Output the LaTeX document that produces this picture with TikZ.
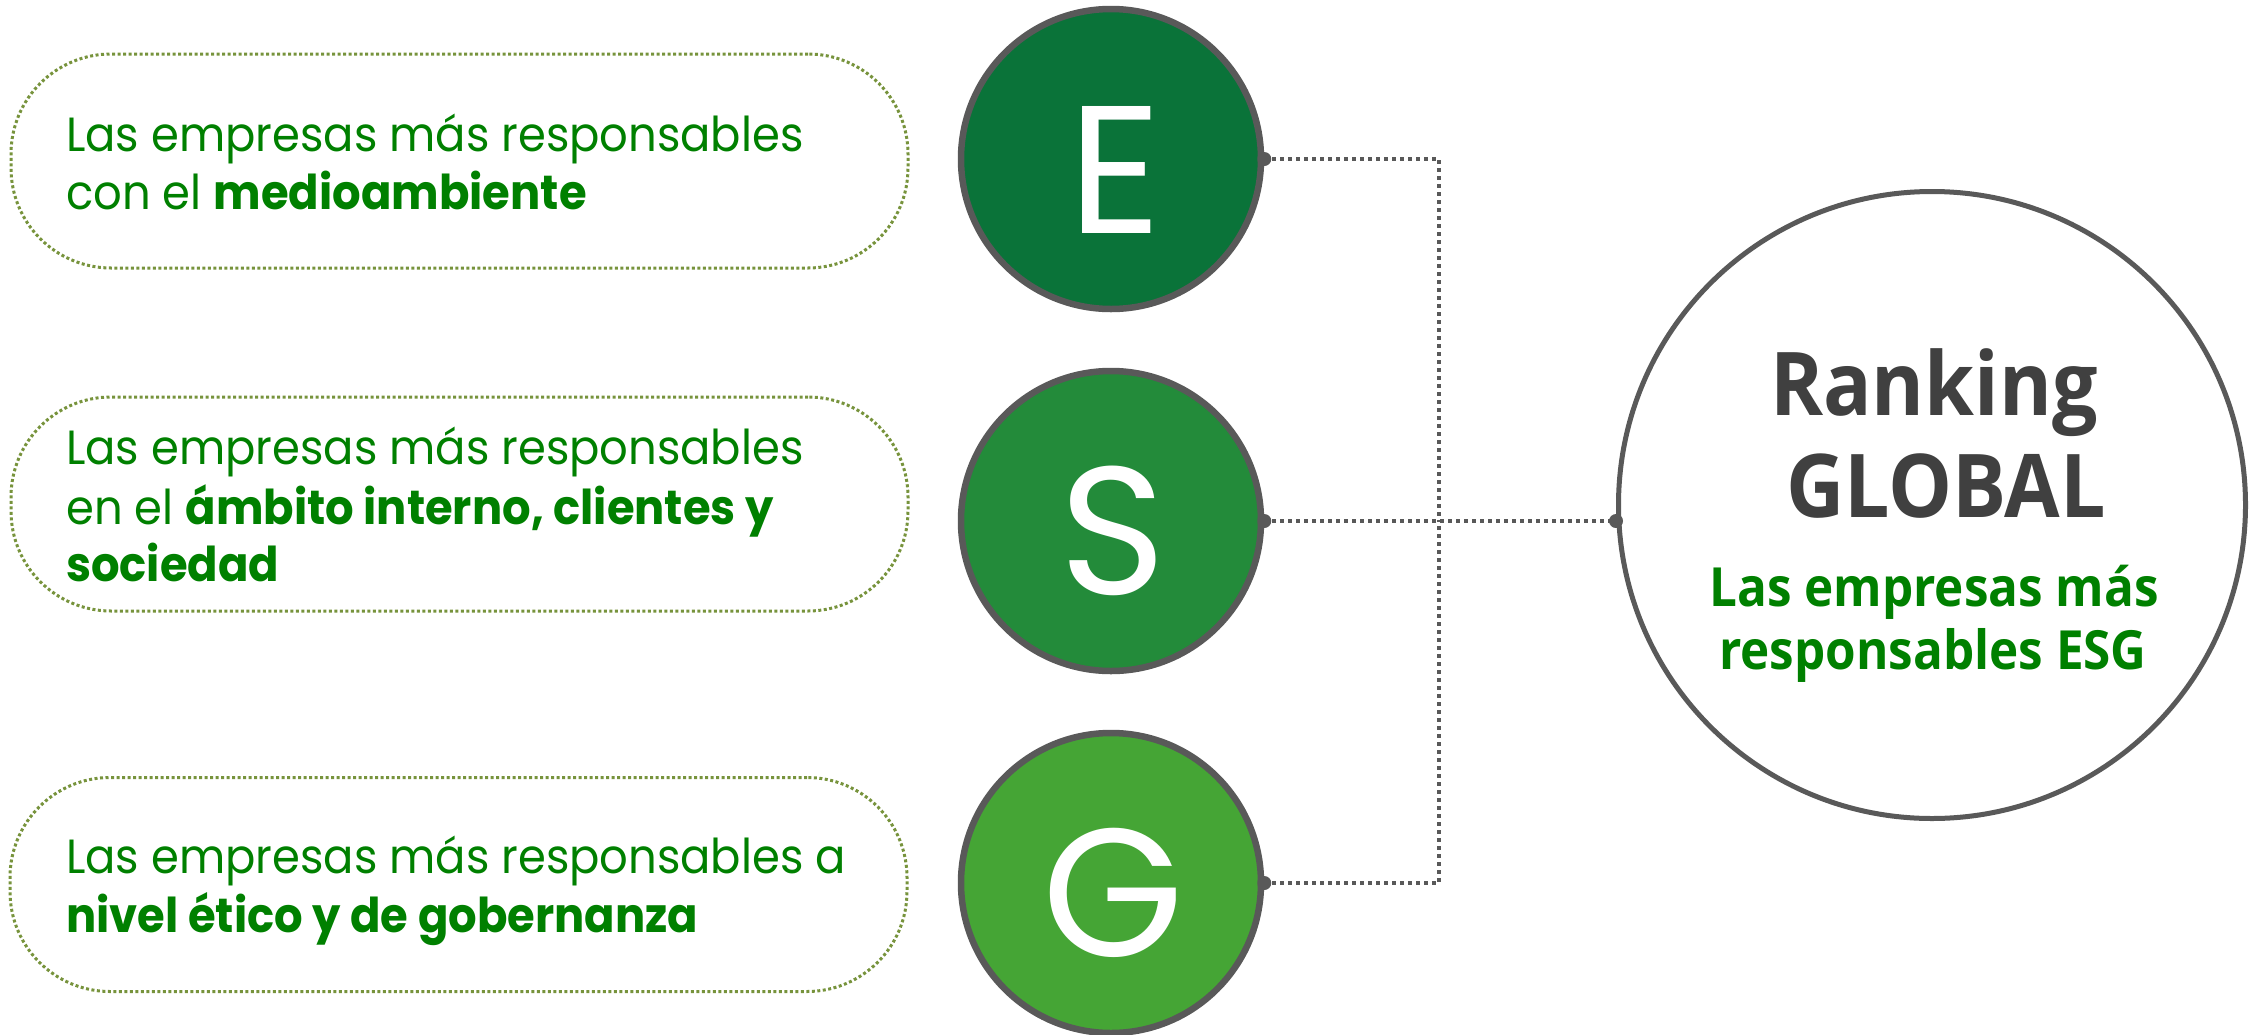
\documentclass[tikz,border=0pt]{standalone}
\usepackage{fontspec}
\setmainfont[FakeStretch=0.935]{Poppins}
\newfontfamily\letterfont{Poppins}
\newfontfamily\segoe[FakeStretch=0.915]{Open Sans}
\usetikzlibrary{calc}
\definecolor{efill}{HTML}{0A7339}
\definecolor{sfill}{HTML}{238B3A}
\definecolor{gfill}{HTML}{45A535}
\definecolor{rim}{HTML}{595959}
\definecolor{txtgreen}{HTML}{008000}
\definecolor{darktxt}{HTML}{404040}
\definecolor{pillline}{HTML}{77933C}
\begin{document}
\begin{tikzpicture}[x=1pt,y=-1pt,
  pillbox/.style={draw=pillline, line width=3pt, dash pattern=on 3pt off 2.5pt, rounded corners=100pt, minimum width=897pt, minimum height=214pt, inner sep=0pt},
  pilltext/.style={anchor=base west, inner sep=0pt, text=txtgreen, font=\fontsize{48}{58}\selectfont},
  letterc/.style={circle, draw=rim, line width=6.5pt, minimum size=300pt, inner sep=0pt},
  lettertxt/.style={anchor=base, inner sep=0pt, text=white, font=\letterfont\fontsize{182}{182}\selectfont},
  bigc/.style={circle, draw=rim, line width=5pt, minimum size=627pt, inner sep=0pt, fill=white},
  rk/.style={anchor=base, inner sep=0pt, text=darktxt, font=\segoe\bfseries\fontsize{88}{88}\selectfont},
  rkg/.style={anchor=base, inner sep=0pt, text=txtgreen, font=\segoe\bfseries\fontsize{54}{54}\selectfont},
  conn/.style={draw=rim, line width=3.5pt, dash pattern=on 3.5pt off 4.5pt},
  dotend/.style={fill=rim}
]
\useasboundingbox (0,0) rectangle (2252,1034);
% pills
\node[pillbox] (p1) at (459.5,161) {};
\node[pillbox] (p2) at (459.5,504) {};
\node[pillbox] (p3) at (458.5,884.5) {};
\node[pilltext] (t11) at (66,151) {Las empresas más responsables};
\node[pilltext] (t12) at (66,209) {con el \textbf{medioambiente}};
\node[pilltext] (t21) at (66,464) {Las empresas más responsables};
\node[pilltext] (t22) at (66,524) {en el \textbf{ámbito interno, clientes y}};
\node[pilltext] (t23) at (66,581) {\textbf{sociedad}};
\node[pilltext] (t31) at (66,873) {Las empresas más responsables a};
\node[pilltext] (t32) at (66,932) {\textbf{nivel ético y de gobernanza}};
% ESG circles
\node[letterc, fill=efill] (E) at (1111,159) {};
\node[letterc, fill=sfill] (S) at (1111,521) {};
\node[letterc, fill=gfill] (G) at (1111,883) {};
\node[lettertxt] (Et) at ($(E.center)+(4,74)$) {E};
\node[lettertxt] (St) at ($(S.center)+(2,73)$) {S};
\node[lettertxt] (Gt) at ($(G.center)+(2,73)$) {G};
% big circle
\node[bigc] (R) at (1932,505) {};
\node[rk] (r1) at (1934,415) {Ranking};
\node[rk] (r2) at (1946,517) {GLOBAL};
\node[rkg] (r3) at (1934,606) {Las empresas más};
\node[rkg] (r4) at (1933,669) {responsables ESG};
% connectors
\coordinate (J) at (1439,521);
\coordinate (Rin) at (S.east -| R.west);
\draw[conn] (E.east) -| (J);
\draw[conn] (G.east) -| (J);
\draw[conn] (S.east) -- (Rin);
\fill[dotend] (E.east) circle (7pt);
\fill[dotend] (S.east) circle (7pt);
\fill[dotend] (G.east) circle (7pt);
\fill[dotend] (Rin) circle (7pt);
\end{tikzpicture}
\end{document}
